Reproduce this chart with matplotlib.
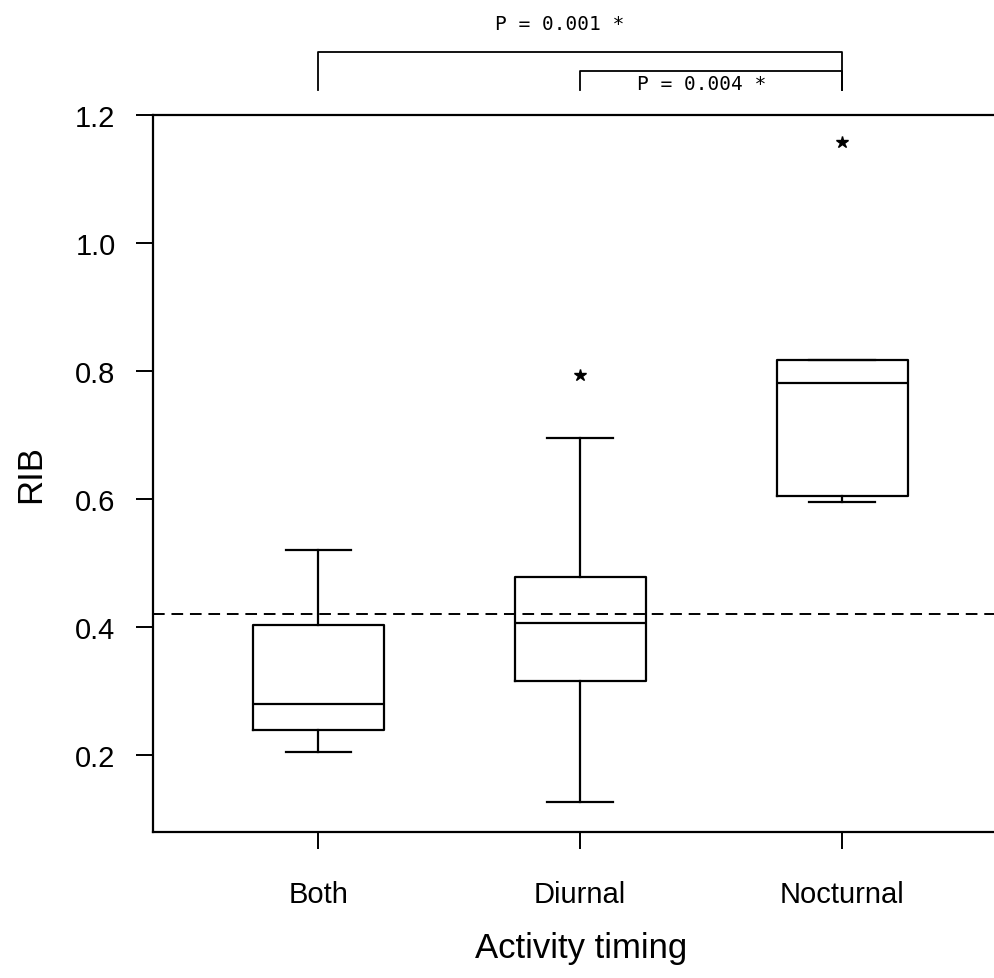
import matplotlib
matplotlib.use("Agg")
import matplotlib.pyplot as plt

plt.rcParams['font.family'] = ['Liberation Sans', 'DejaVu Sans']

categories = ['Both', 'Diurnal', 'Nocturnal']
q1 = [0.239, 0.316, 0.605]
med = [0.280, 0.406, 0.781]
q3 = [0.404, 0.479, 0.817]
whislo = [0.206, 0.127, 0.596]
whishi = [0.521, 0.696, 0.817]
fliers = [[], [0.793], [1.157]]
ref_line = 0.42
yticks = [0.2, 0.4, 0.6, 0.8, 1.0, 1.2]
ytick_labels = ['0.2', '0.4', '0.6', '0.8', '1.0', '1.2']

# significance brackets: (from category index, to category index, label)
comparisons = [(0, 2, 'P = 0.001 *'), (1, 2, 'P = 0.004 *')]

W, H, DPI = 994, 979, 100
fig = plt.figure(figsize=(W / DPI, H / DPI), dpi=DPI)
left = 153 / W
bottom = 1 - 832.7 / H
top = 1 - 115.7 / H
ax = fig.add_axes([left, bottom, 1 - left, top - bottom])

positions = [1, 2, 3]
stats = []
for i, c in enumerate(categories):
    stats.append(dict(label=c, q1=q1[i], med=med[i], q3=q3[i],
                      whislo=whislo[i], whishi=whishi[i], fliers=fliers[i]))

lw = 1.6
ax.bxp(stats, positions=positions, widths=0.5, capwidths=0.25,
       boxprops=dict(color='black', linewidth=lw),
       whiskerprops=dict(color='black', linewidth=lw),
       capprops=dict(color='black', linewidth=lw),
       medianprops=dict(color='black', linewidth=lw),
       flierprops=dict(marker='*', markerfacecolor='black', markeredgecolor='black',
                       markersize=9, linestyle='none'),
       showfliers=True)

ax.axhline(ref_line, color='black', linewidth=1.4, linestyle=(0, (6, 3.5)))

ax.set_xlim(0.3686, 3.58)
ax.set_ylim(0.081, 1.2)
ax.set_yticks(yticks)
ax.set_yticklabels(ytick_labels)
ax.set_xticks(positions)
ax.set_xticklabels(categories)

for s in ['left', 'bottom', 'top']:
    ax.spines[s].set_linewidth(1.6)
ax.spines['right'].set_visible(False)

ax.tick_params(axis='both', direction='out', length=12, width=1.4, labelsize=21)
ax.tick_params(axis='y', pad=15)
ax.tick_params(axis='x', pad=23)

ax.set_ylabel('RIB', fontsize=25, labelpad=20)
ax.set_xlabel('Activity timing', fontsize=25)
ax.xaxis.set_label_coords(0.509, -0.161)
ax.xaxis.label.set_va('center')

# brackets
bracket_tops = [1.298, 1.2687]
leg_bottom = 1.238
text_pos = [(1.923, 1.3416), (2.462, 1.249)]
for (a, b, lab), ytop, (tx, ty) in zip(comparisons, bracket_tops, text_pos):
    xa, xb = positions[a], positions[b]
    ax.plot([xa, xa, xb, xb], [leg_bottom, ytop, ytop, leg_bottom], color='black',
            linewidth=1.3, clip_on=False)
    ax.text(tx, ty, lab, ha='center', va='center', fontsize=14,
            family=['DejaVu Sans Mono'], clip_on=False)

fig.savefig('out.png', dpi=DPI)
